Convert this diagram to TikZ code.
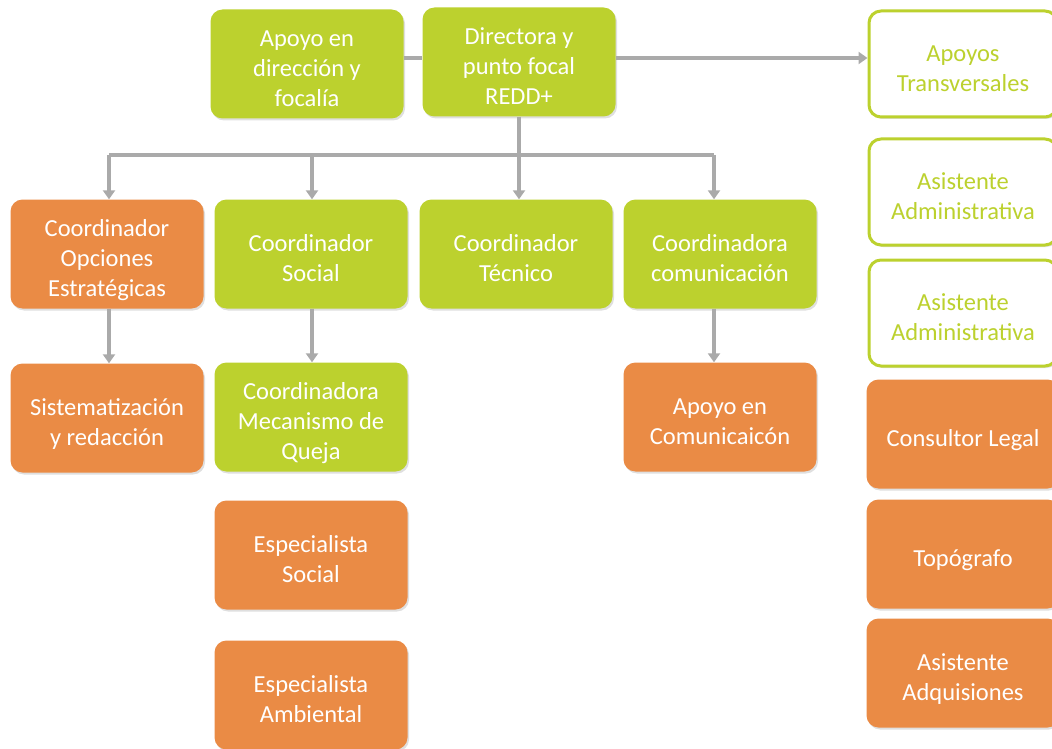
\documentclass[tikz,border=0pt]{standalone}
\usepackage{fontspec}
\setmainfont{Carlito}
\usetikzlibrary{arrows.meta,shadows}
\definecolor{lime}{RGB}{188,209,46}
\definecolor{orng}{RGB}{234,139,69}
\definecolor{arrgray}{RGB}{170,170,170}
\newcommand\lbltxt[1]{\raisebox{-6.5pt}[\height][\depth]{\begin{tabular}{@{}c@{}}#1\end{tabular}}}
\tikzset{
  box/.style={rounded corners=12pt,minimum width=193pt,minimum height=109pt,align=center,
    text=white,font=\fontsize{24.5}{30}\selectfont,inner sep=2pt,
    drop shadow={shadow xshift=1.5pt,shadow yshift=-2pt,opacity=0.25}},
  gbox/.style={box,fill=lime},
  obox/.style={box,fill=orng},
  wbox/.style={box,fill=white,draw=lime,line width=3pt,text=lime,minimum width=188pt,minimum height=106pt},
  conn/.style={draw=arrgray,line width=3.5pt},
  arr/.style={conn,-{Triangle[length=9pt,width=12pt]}}
}
\begin{document}
\begin{tikzpicture}[x=1pt,y=-1pt]
\useasboundingbox (0,0) rectangle (1052,749);
\clip (0,0) rectangle (1052,749);
% top
\node[gbox] (apoyo) at (307,64) {\lbltxt{Apoyo en\\dirección y\\focalía}};
\node[gbox] (dir) at (519,62) {\lbltxt{Directora y\\punto focal\\REDD+}};
% right column
\node[wbox] (tr) at (963,64) {\lbltxt{Apoyos\\Transversales}};
\node[wbox] (aa1) at (963,192) {\lbltxt{Asistente\\Administrativa}};
\node[wbox] (aa2) at (963,313) {\lbltxt{Asistente\\Administrativa}};
\node[obox] (leg) at (963,434) {\lbltxt{Consultor Legal}};
\node[obox] (top) at (963,554) {\lbltxt{Topógrafo}};
\node[obox] (adq) at (963,673) {\lbltxt{Asistente\\Adquisiones}};
% row 2
\node[obox] (opc) at (107,254) {\lbltxt{Coordinador\\Opciones\\Estratégicas}};
\node[gbox] (soc) at (311,254) {\lbltxt{Coordinador\\Social}};
\node[gbox] (tec) at (516,254) {\lbltxt{Coordinador\\Técnico}};
\node[gbox] (com) at (720,254) {\lbltxt{Coordinadora\\comunicación}};
% row 3
\node[obox] (sis) at (107,418) {\lbltxt{Sistematización\\y redacción}};
\node[gbox] (que) at (311,417) {\lbltxt{Coordinadora\\Mecanismo de\\Queja}};
\node[obox] (acom) at (720,417) {\lbltxt{Apoyo en\\Comunicaicón}};
% lower
\node[obox] (esoc) at (311,555) {\lbltxt{Especialista\\Social}};
\node[obox] (eamb) at (311,695) {\lbltxt{Especialista\\Ambiental}};
% connectors
\coordinate (bus) at (519,155);
\draw[conn] (apoyo.east |- 0,58) -- (dir.west |- 0,58);
\draw[arr] (dir.east |- 0,58) -- (tr.west |- 0,58);
\draw[conn] (dir.south) -- (bus);
\draw[conn] (109,155) -- (714,155);
\draw[arr] (109,155) -- (opc.north -| 109,0);
\draw[arr] (312,155) -- (soc.north -| 312,0);
\draw[arr] (bus) -- (tec.north -| 519,0);
\draw[arr] (714,155) -- (com.north -| 714,0);
\draw[arr] (opc.south -| 109,0) -- (sis.north -| 109,0);
\draw[arr] (soc.south -| 312,0) -- (que.north -| 312,0);
\draw[arr] (com.south -| 714,0) -- (acom.north -| 714,0);
\end{tikzpicture}
\end{document}
